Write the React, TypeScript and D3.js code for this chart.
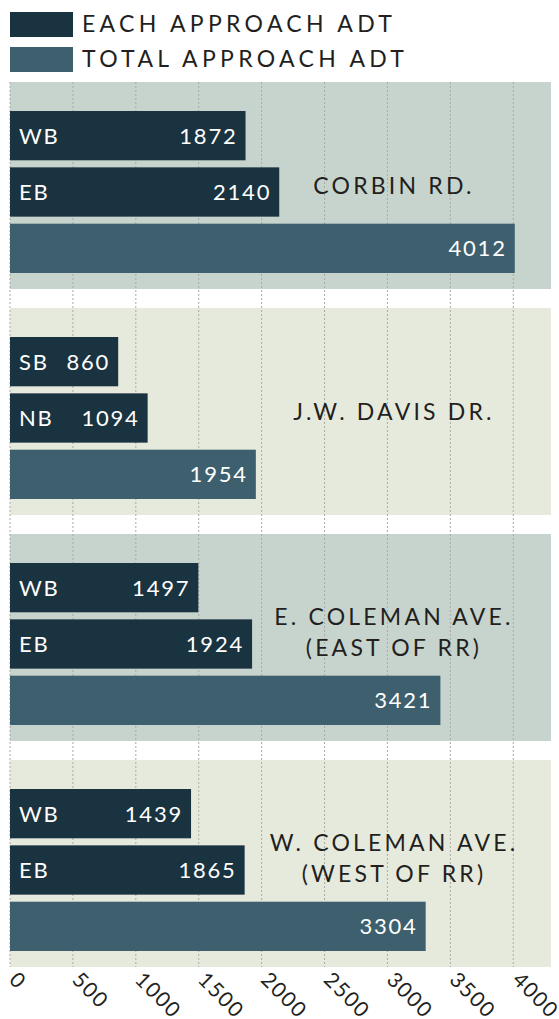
import React from "react";
import * as d3 from "d3";

const roadLines: string[][] = [
  ["CORBIN RD."],
  ["J.W. DAVIS DR."],
  ["E. COLEMAN AVE.", "(EAST OF RR)"],
  ["W. COLEMAN AVE.", "(WEST OF RR)"],
];
const firstDir = ["WB", "SB", "WB", "WB"];
const firstVal = [1872, 860, 1497, 1439];
const secondDir = ["EB", "NB", "EB", "EB"];
const secondVal = [2140, 1094, 1924, 1865];
const totalVal = [4012, 1954, 3421, 3304];
const tickVals = [0, 500, 1000, 1500, 2000, 2500, 3000, 3500, 4000];
const legendLabels = ["EACH APPROACH ADT", "TOTAL APPROACH ADT"];

const W = 559;
const H = 1019;
const DARK = "#1a3340";
const TOTAL = "#3d5f6e";
const PANEL = ["#c7d4cd", "#e6eadd"];
const FONT = "Lato, 'Open Sans', sans-serif";

export default function App() {
  const x = d3.scaleLinear().domain([0, 4300]).range([10, 551]);
  const idx = roadLines.map((_, i) => String(i));
  const y = d3.scaleBand<string>().domain(idx).range([82, 967]).paddingInner(19 / 226).paddingOuter(0);
  const inner = d3.scaleBand<string>().domain(["0", "1", "2"]).range([29, 191]).paddingInner(0.125).paddingOuter(0);
  const bh = inner.bandwidth();

  return (
    <svg width={W} height={H} style={{ position: "absolute", left: 0, top: 0, background: "#fff" }} fontFamily={FONT}>
      {/* legend */}
      {legendLabels.map((l, i) => (
        <g key={l}>
          <rect x={10} y={12 + i * 35} width={63} height={25} fill={i === 0 ? DARK : TOTAL} />
          <text x={82} y={32 + i * 35} fontSize={23} letterSpacing={4.3} fill="#231f20">{l}</text>
        </g>
      ))}
      {/* panels */}
      {idx.map((k, i) => (
        <rect key={"p" + k} x={x(0)} y={y(k)!} width={551 - x(0)} height={y.bandwidth()} fill={PANEL[i % 2]} />
      ))}
      {/* grid */}
      {tickVals.map((t) => (
        <line key={"g" + t} x1={x(t)} x2={x(t)} y1={82} y2={967} stroke="#a9a9a9" strokeWidth={1} strokeDasharray="2,2" />
      ))}
      {/* bars */}
      {idx.map((k, i) => {
        const y0 = y(k)!;
        const rows = [
          { v: firstVal[i], d: firstDir[i], c: DARK },
          { v: secondVal[i], d: secondDir[i], c: DARK },
          { v: totalVal[i], d: "", c: TOTAL },
        ];
        const lines = roadLines[i];
        const cy = y0 + y.bandwidth() / 2 - (lines.length > 1 ? 5 : 0);
        const lh = 31;
        return (
          <g key={"b" + k}>
            {rows.map((r, j) => {
              const by = y0 + inner(String(j))!;
              return (
                <g key={j}>
                  <rect x={x(0)} y={by} width={x(r.v) - x(0)} height={bh} fill={r.c} />
                  {r.d && (
                    <text x={19} y={by + bh / 2 + 8} fontSize={22} letterSpacing={1.8} fill="#fff">{r.d}</text>
                  )}
                  <text x={x(r.v) - 8} y={by + bh / 2 + 8} fontSize={22} letterSpacing={1.8} fill="#fff" textAnchor="end">{r.v}</text>
                </g>
              );
            })}
            {lines.map((ln, m) => (
              <text key={m} x={394} y={cy + 8 + (m - (lines.length - 1) / 2) * lh} fontSize={23} letterSpacing={3.2} textAnchor="middle" fill="#231f20">{ln}</text>
            ))}
          </g>
        );
      })}
      {/* axis labels */}
      {tickVals.map((t) => (
        <text key={"t" + t} transform={`translate(${x(t) - 2},981) rotate(45)`} fontSize={21} letterSpacing={1.5} fill="#231f20">{t}</text>
      ))}
    </svg>
  );
}
